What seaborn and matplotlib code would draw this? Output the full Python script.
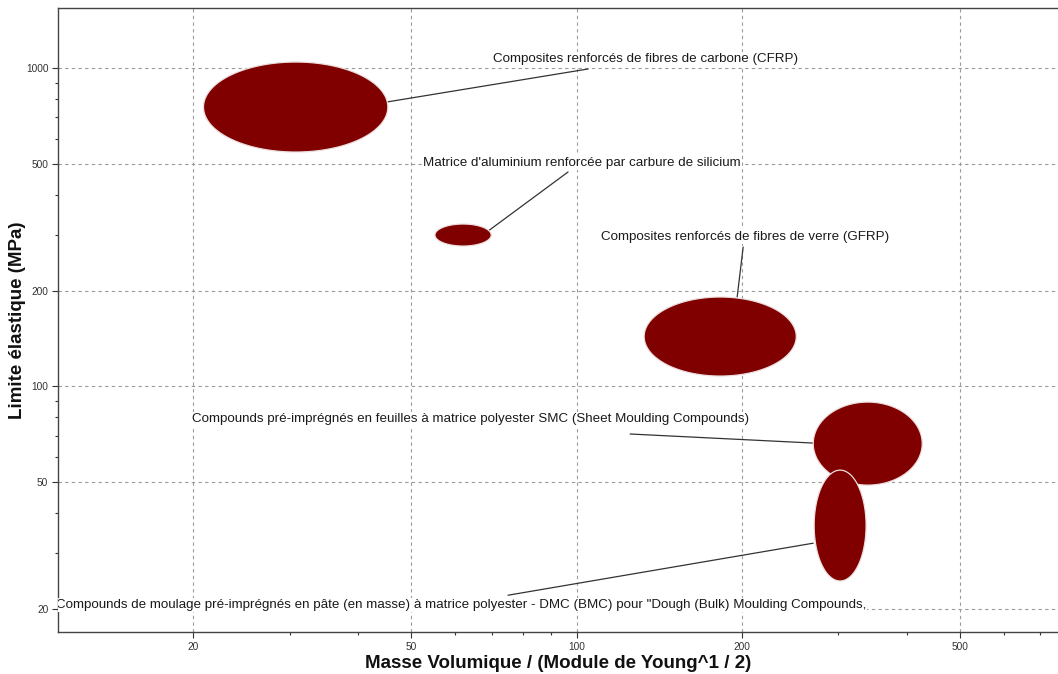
#!/usr/bin/env python3

import numpy as np
import pandas as pd
import seaborn as sns
import matplotlib.pyplot as plt
from matplotlib.ticker import FixedLocator, LogLocator, NullFormatter

# material bubbles: ranges
materials = ['CFRP', 'AlSiC', 'GFRP', 'SMC', 'DMC']
x_low = [20.9, 55.2, 132.8, 270.0, 271.0]
x_high = [45.3, 69.9, 251.4, 426.5, 337.0]
y_low = [544.6, 276.0, 107.8, 49.0, 24.5]
y_high = [1044.0, 323.6, 190.9, 89.3, 54.6]

labels = [
    'Composites renforcés de fibres de carbone (CFRP)',
    "Matrice d'aluminium renforcée par carbure de silicium",
    'Composites renforcés de fibres de verre (GFRP)',
    'Compounds pré-imprégnés en feuilles à matrice polyester SMC (Sheet Moulding Compounds)',
    'Compounds de moulage pré-imprégnés en pâte (en masse) à matrice polyester - DMC (BMC) pour "Dough (Bulk) Moulding Compounds,',
]
label_x = [133.6, 102.2, 202.5, 64.0, 61.5]
label_y = [1067.0, 504.0, 295.3, 79.0, 20.6]
# leader lines: point on bubble -> point near label
line_x0 = [45.1, 69.0, 196.2, 270.0, 270.0]
line_y0 = [782.0, 307.6, 190.9, 66.4, 32.2]
line_x1 = [105.0, 96.5, 201.2, 125.2, 75.0]
line_y1 = [993.0, 471.5, 274.0, 70.9, 22.1]

x_major = [20, 50, 100, 200, 500]
y_major = [20, 50, 100, 200, 500, 1000]

df = pd.DataFrame({'material': materials, 'xl': x_low, 'xh': x_high,
                   'yl': y_low, 'yh': y_high})

sns.set_theme(style='white')
plt.rcParams['font.family'] = ['Liberation Sans', 'DejaVu Sans']

fig = plt.figure(figsize=(10.58, 6.74), dpi=100)
ax = fig.add_axes([58 / 1058, 1 - 632 / 674, 1 - 58 / 1058, 624 / 674])
ax.set_xscale('log')
ax.set_yscale('log')
ax.set_xlim(11.35, 754)
ax.set_ylim(16.94, 1543)

t = np.linspace(0, 2 * np.pi, 200)
for _, r in df.iterrows():
    cx = (np.log10(r.xl) + np.log10(r.xh)) / 2
    rx = (np.log10(r.xh) - np.log10(r.xl)) / 2
    cy = (np.log10(r.yl) + np.log10(r.yh)) / 2
    ry = (np.log10(r.yh) - np.log10(r.yl)) / 2
    ax.fill(10 ** (cx + rx * np.cos(t)), 10 ** (cy + ry * np.sin(t)),
            facecolor='#800000', edgecolor='#eddede', lw=0.9, zorder=3)

for i in range(len(labels)):
    ax.plot([line_x0[i], line_x1[i]], [line_y0[i], line_y1[i]],
            color='#333333', lw=0.9, zorder=2)
    ax.text(label_x[i], label_y[i], labels[i], ha='center', va='center',
            fontsize=9.6, color='#1a1a1a', zorder=4, clip_on=True,
            bbox=dict(facecolor='white', edgecolor='none', pad=1.0))

ax.xaxis.set_major_locator(FixedLocator(x_major))
ax.yaxis.set_major_locator(FixedLocator(y_major))
ax.set_xticklabels([str(v) for v in x_major])
ax.set_yticklabels([str(v) for v in y_major])
ax.xaxis.set_minor_locator(LogLocator(base=10, subs=np.arange(2, 10)))
ax.yaxis.set_minor_locator(LogLocator(base=10, subs=np.arange(2, 10)))
ax.xaxis.set_minor_formatter(NullFormatter())
ax.yaxis.set_minor_formatter(NullFormatter())
ax.tick_params(axis='both', which='major', labelsize=7.3, length=4, width=0.8,
               color='#333333', labelcolor='#333333', bottom=True, left=True, pad=3)
ax.tick_params(axis='both', which='minor', length=2.5, width=0.8,
               color='#333333', bottom=True, left=True)

ax.grid(True, which='major', color='#9a9a9a', linestyle=(0, (3, 3)), lw=0.8)
for s in ['left', 'bottom', 'top']:
    ax.spines[s].set_color('#444444')
    ax.spines[s].set_linewidth(1.0)
ax.spines['right'].set_visible(False)

ax.set_xlabel('Masse Volumique / (Module de Young^1 / 2)', fontsize=13.5,
              fontweight='bold', color='#111111', labelpad=2)
ax.set_ylabel('Limite élastique (MPa)', fontsize=13.5, fontweight='bold',
              color='#111111', labelpad=0)

plt.savefig('out.png', dpi=100)
